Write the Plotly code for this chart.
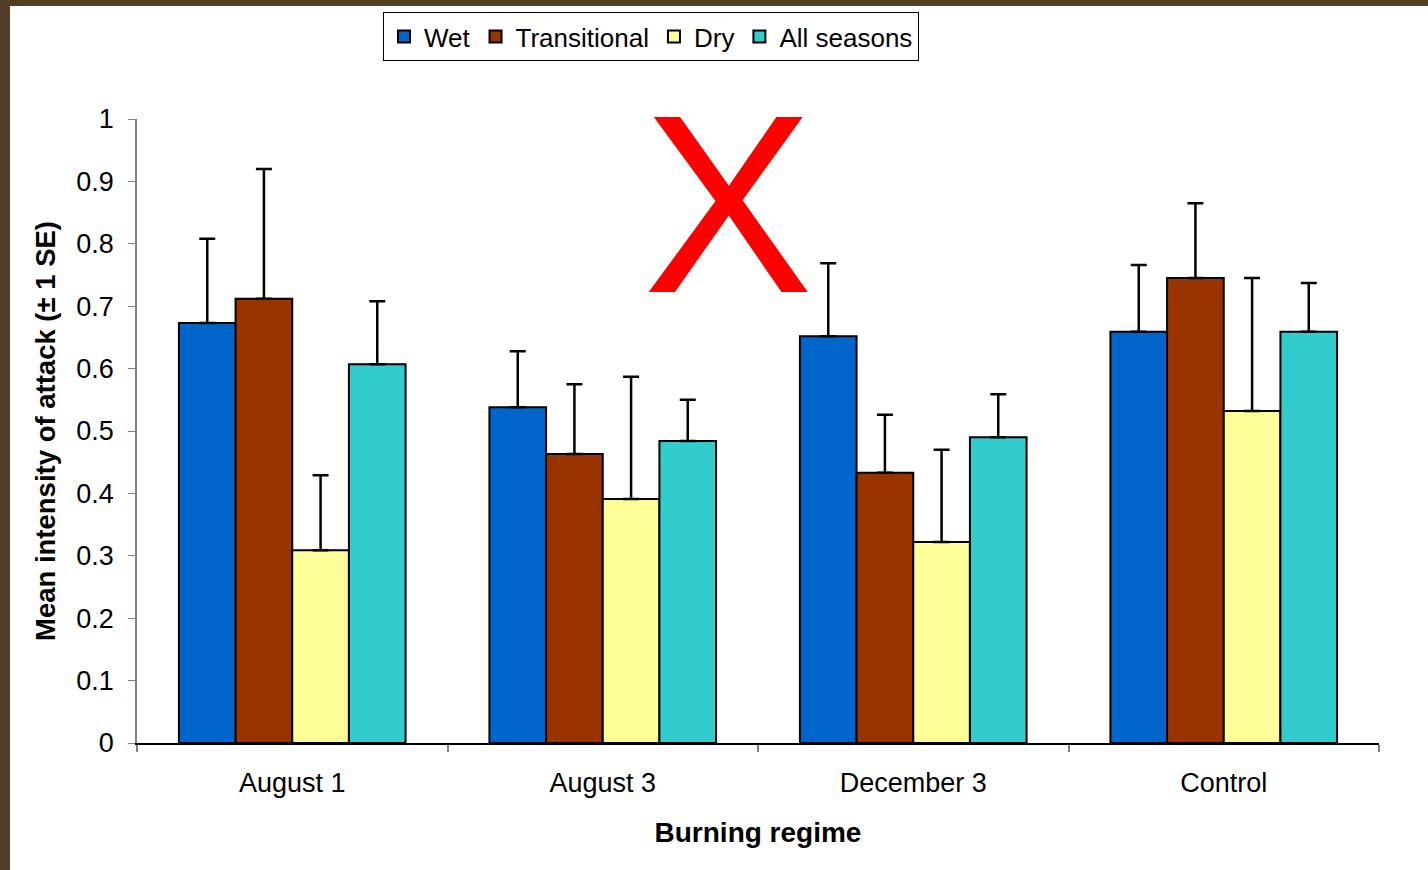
import plotly.graph_objects as go

categories = ["August 1", "August 3", "December 3", "Control"]
series_names = ["Wet", "Transitional", "Dry", "All seasons"]
wet = [0.673, 0.538, 0.652, 0.659]
transitional = [0.712, 0.463, 0.433, 0.745]
dry = [0.309, 0.391, 0.322, 0.532]
all_seasons = [0.607, 0.484, 0.490, 0.659]
wet_se = [0.135, 0.090, 0.117, 0.107]
transitional_se = [0.208, 0.112, 0.093, 0.120]
dry_se = [0.120, 0.196, 0.148, 0.213]
all_seasons_se = [0.101, 0.066, 0.069, 0.078]
colors = ["#0066CC", "#993300", "#FFFF99", "#33CCCC"]

FONT = "Liberation Sans, Arial, sans-serif"

fig = go.Figure()
for name, vals, se, col in zip(series_names,
                               [wet, transitional, dry, all_seasons],
                               [wet_se, transitional_se, dry_se, all_seasons_se],
                               colors):
    fig.add_trace(go.Bar(
        name=name, x=categories, y=vals, marker_color=col,
        marker_line_color="black", marker_line_width=2,
        error_y=dict(type="data", array=se, arrayminus=[0] * len(se),
                     symmetric=False, color="black", thickness=2.5, width=8),
    ))

W, H = 1428, 870
L, R, T, B = 137, 49, 119, 127
pw, ph = W - L - R, H - T - B

def px_x(p):
    return (p - L) / pw

def px_y(p):
    return (H - B - p) / ph

fig.update_layout(
    width=W, height=H,
    margin=dict(l=L, r=R, t=T, b=B, pad=0),
    paper_bgcolor="white", plot_bgcolor="white",
    barmode="group", bargap=0.27, bargroupgap=0,
    font=dict(family=FONT, size=27, color="black"),
    legend=dict(orientation="h", x=px_x(651), y=px_y(12),
                xanchor="center", yanchor="top",
                bordercolor="black", borderwidth=1, bgcolor="white",
                font=dict(size=26), traceorder="normal",
                itemwidth=30, entrywidthmode="pixels"),
    xaxis=dict(showline=True, linecolor="black", linewidth=1.5,
               ticks="outside", tickson="boundaries", ticklen=7,
               tickcolor="#808080", tickwidth=1.5, ticklabelstandoff=15,
               title=dict(text="<b>Burning regime</b>", standoff=25,
                          font=dict(size=28)),
               tickfont=dict(size=27)),
    yaxis=dict(range=[0, 1], dtick=0.1, showline=True, linecolor="#808080",
               linewidth=1.5, ticks="outside", ticklen=7, tickcolor="#808080",
               showgrid=False, zeroline=False, tickfont=dict(size=27),
               ticklabelstandoff=9,
               title=dict(text="<b>Mean intensity of attack (± 1 SE)</b>",
                          standoff=13, font=dict(size=27.5))),
    shapes=[
        dict(type="rect", xref="paper", yref="paper",
             x0=px_x(0), x1=px_x(10), y0=px_y(870), y1=px_y(0),
             fillcolor="#533F28", line_width=0, layer="above"),
        dict(type="rect", xref="paper", yref="paper",
             x0=px_x(0), x1=px_x(1428), y0=px_y(6), y1=px_y(0),
             fillcolor="#533F28", line_width=0, layer="above"),
    ],
    annotations=[
        dict(text="X", xref="paper", yref="paper", x=px_x(728), y=px_y(204),
             xanchor="center", yanchor="middle", showarrow=False,
             font=dict(family=FONT, size=255, color="#FF0000")),
    ],
)

fig.write_html("out.html", config={"displayModeBar": False},
               post_script="document.body.style.margin='0';")
